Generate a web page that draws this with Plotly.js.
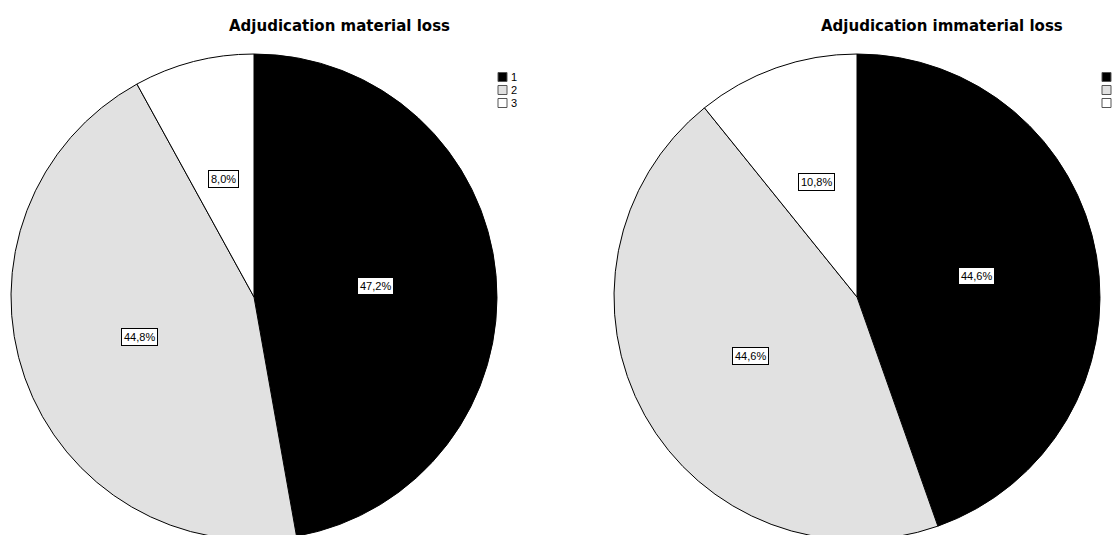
<!DOCTYPE html>
<html>
<head>
<meta charset="utf-8">
<script src="https://cdn.plot.ly/plotly-3.0.1.min.js"></script>
<style>
html,body{margin:0;padding:0;overflow:hidden;background:#fff;}
#chart{width:1113px;height:600px;}
</style>
</head>
<body>
<div id="chart"></div>
<script>
// ---- data ----
const categories = ["1", "2", "3"];
const titles = ["Adjudication material loss", "Adjudication immaterial loss"];
const materialValues = [47.2, 44.8, 8.0];
const immaterialValues = [44.6, 44.6, 10.8];
const sliceColors = ["#000000", "#e1e1e1", "#ffffff"];

// ---- geometry ----
const W = 1113, H = 600;
const R = 243;
const centers = [[254, 297], [857, 297]];
const legendX = [498, 1102];
const showLegendText = [true, false]; // second legend's labels fall outside the image

function fmt(v){ return v.toFixed(1).replace(".", ",") + "%"; }

const seriesList = [materialValues, immaterialValues];
const data = [];
const annotations = [];
const shapes = [];

seriesList.forEach((vals, i) => {
  const [cx, cy] = centers[i];
  data.push({
    type: "pie",
    values: vals,
    labels: categories,
    sort: false,
    direction: "clockwise",
    rotation: 0,
    textinfo: "none",
    hoverinfo: "label+percent",
    showlegend: false,
    marker: {colors: sliceColors, line: {color: "#000000", width: 1}},
    domain: {x: [(cx - R) / W, (cx + R) / W], y: [(H - cy - R) / H, (H - cy + R) / H]}
  });
  // labels
  const total = vals.reduce((a, b) => a + b, 0);
  let cum = 0;
  vals.forEach(v => {
    const mid = (cum + v / 2) / total * 2 * Math.PI;
    cum += v;
    const lx = cx + 0.5 * R * Math.sin(mid);
    const ly = cy - 0.5 * R * Math.cos(mid);
    annotations.push({
      xref: "paper", yref: "paper", x: lx / W, y: (H - ly) / H,
      text: fmt(v / total * 100), showarrow: false,
      font: {family: "Liberation Sans, Arial, sans-serif", size: 11, color: "#000"},
      bgcolor: "#ffffff", bordercolor: "#000000", borderwidth: 1, borderpad: 2,
      xanchor: "center", yanchor: "middle"
    });
  });
  // title
  annotations.push({
    xref: "paper", yref: "paper", x: (cx + 85) / W, y: (H - 26) / H,
    text: "<b>" + titles[i] + "</b>", showarrow: false,
    font: {family: "DejaVu Sans, sans-serif", size: 15, color: "#000"},
    xanchor: "center", yanchor: "middle"
  });
  // legend
  categories.forEach((c, k) => {
    const yc = 77 + k * 13;
    shapes.push({
      type: "rect", xref: "paper", yref: "paper",
      x0: legendX[i] / W, x1: (legendX[i] + 9) / W,
      y0: (H - yc - 4.5) / H, y1: (H - yc + 4.5) / H,
      fillcolor: sliceColors[k], line: {color: "#555555", width: 1}
    });
    if (showLegendText[i]) {
      annotations.push({
        xref: "paper", yref: "paper", x: (legendX[i] + 11) / W, y: (H - yc) / H,
        text: c, showarrow: false,
        font: {family: "Liberation Sans, Arial, sans-serif", size: 11, color: "#000"},
        xanchor: "left", yanchor: "middle"
      });
    }
  });
});

const layout = {
  width: W, height: H,
  margin: {l: 0, r: 0, t: 0, b: 0},
  paper_bgcolor: "#ffffff",
  showlegend: false,
  annotations: annotations,
  shapes: shapes
};

Plotly.newPlot("chart", data, layout, {displayModeBar: false, staticPlot: true});
</script>
</body>
</html>
